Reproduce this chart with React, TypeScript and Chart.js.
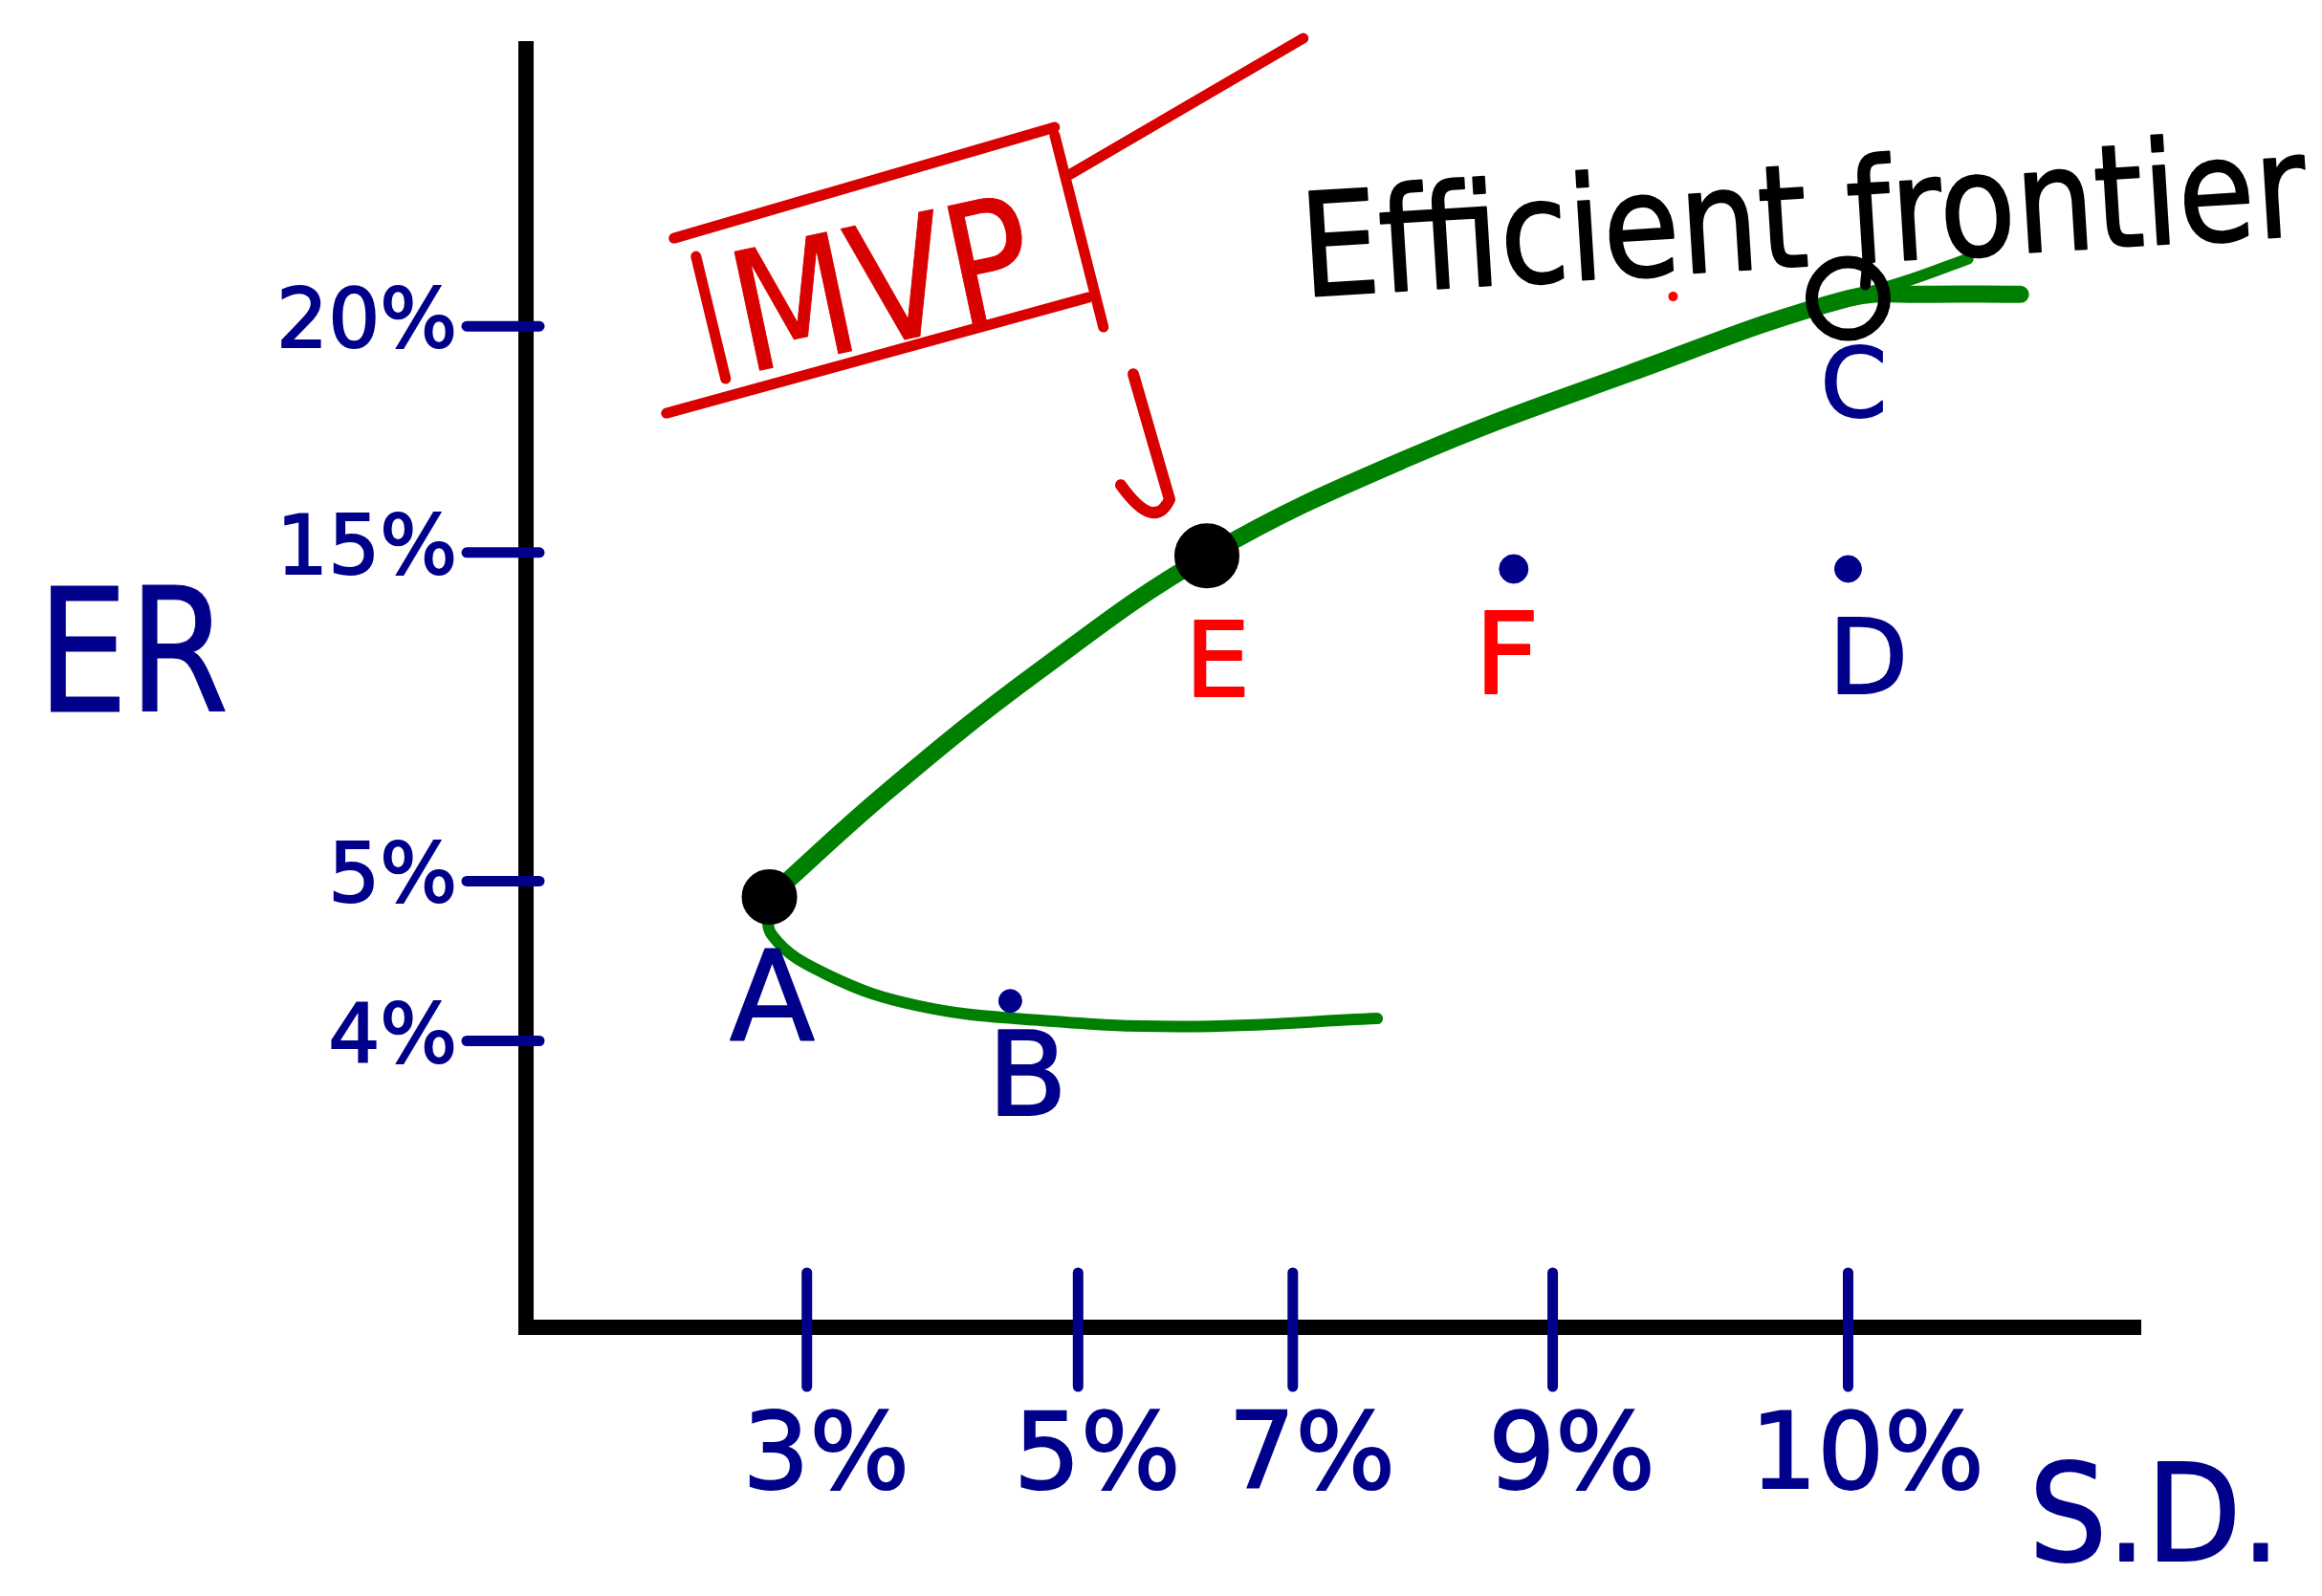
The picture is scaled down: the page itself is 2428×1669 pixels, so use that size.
import React, { useEffect, useRef } from 'react';
import { Chart, registerables, LinearScale } from 'chart.js';

// ---- values (S.D. and expected return, both in %) ----
const sdTicks = [3, 5, 7, 9, 10];
const erTicks = [4, 5, 15, 20];

const portfolioNames = ['A', 'B', 'C', 'D', 'E', 'F'];
const portfolioSD = [2.6, 4.5, 10, 10, 6.2, 8.7];
const portfolioER = [4.9, 4.25, 20.6, 14.5, 14.9, 14.5];

// upper (efficient) branch of the frontier, A -> E -> C and a little beyond
const frontierSD = [2.6, 3.6, 4.7, 6.2, 7.88, 9.26, 10, 10.26, 10.59];
const frontierER = [4.9, 7.75, 11.36, 14.9, 17.08, 18.96, 20.6, 20.69, 20.69];

// lower (inefficient) branch from A through B
const lowerSD = [2.6, 2.63, 3.16, 3.82, 4.7, 6.0, 7.65];
const lowerER = [4.9, 4.66, 4.41, 4.22, 4.13, 4.09, 4.14];

// second pen stroke leaving C
const spurSD = [10, 10.21, 10.41];
const spurER = [20.6, 21.0, 21.46];

// ---- look ----
const W = 2428;
const H = 1669;
const NAVY = '#00008b';
const RED = '#ff0000';
const PEN_RED = '#d90000';
const GREEN = '#008000';
const INK = '#000000';
const FAMILY = '"DejaVu Sans", "Noto Sans", sans-serif';

// The sketched axes are not evenly spaced: each axis maps value breakpoints
// to a fraction of its drawn length.
const AXIS_SPACING: Record<string, [number, number][]> = {
  x: [[0, 0], [3, 0.174], [5, 0.342], [7, 0.475], [9, 0.636], [10, 0.819], [11, 1]],
  y: [[0, 0], [4, 0.224], [5, 0.349], [15, 0.606], [20, 0.783], [26, 1]],
};

class SketchScale extends LinearScale {
  static id = 'sketch';
  static defaults = {};

  getPixelForValue(value: any) {
    if (value === null || value === undefined || isNaN(value)) return NaN;
    const s = AXIS_SPACING[(this as any).id];
    let i = 1;
    while (i < s.length - 1 && value > s[i][0]) i++;
    const [v0, f0] = s[i - 1];
    const [v1, f1] = s[i];
    const dec = f0 + ((value - v0) / (v1 - v0)) * (f1 - f0);
    return (this as any).getPixelForDecimal(dec);
  }

  getValueForPixel(pixel: number) {
    const dec = (this as any).getDecimalForPixel(pixel);
    const s = AXIS_SPACING[(this as any).id];
    let i = 1;
    while (i < s.length - 1 && dec > s[i][1]) i++;
    const [v0, f0] = s[i - 1];
    const [v1, f1] = s[i];
    return v0 + ((dec - f0) / (f1 - f0)) * (v1 - v0);
  }
}

Chart.register(...registerables, SketchScale as any);

const MARKERS: Record<string, { r: number; fill: string; stroke: string; width: number }> = {
  A: { r: 28, fill: INK, stroke: INK, width: 2 },
  B: { r: 12, fill: NAVY, stroke: NAVY, width: 1 },
  C: { r: 38, fill: 'rgba(0,0,0,0)', stroke: INK, width: 13 },
  D: { r: 14, fill: NAVY, stroke: NAVY, width: 1 },
  E: { r: 33, fill: INK, stroke: INK, width: 2 },
  F: { r: 15, fill: NAVY, stroke: NAVY, width: 1 },
};

const LETTERS: Record<string, { color: string; dx: number; dy: number; size: number }> = {
  A: { color: NAVY, dx: 3, dy: 115, size: 130 },
  B: { color: NAVY, dx: 18, dy: 88, size: 122 },
  C: { color: NAVY, dx: 6, dy: 98, size: 100 },
  D: { color: NAVY, dx: 21, dy: 102, size: 108 },
  E: { color: RED, dx: 11, dy: 119, size: 108 },
  F: { color: RED, dx: -7, dy: 99, size: 118 },
};

// note boxed "MVP" sits at this (S.D., ER) spot
const MVP_NOTE = { sd: 3.48, er: 21.2 };

function pen(ctx: CanvasRenderingContext2D, pts: number[][], color: string, width: number) {
  ctx.save();
  ctx.strokeStyle = color;
  ctx.lineWidth = width;
  ctx.lineCap = 'round';
  ctx.lineJoin = 'round';
  ctx.beginPath();
  ctx.moveTo(pts[0][0], pts[0][1]);
  for (let i = 1; i < pts.length; i++) ctx.lineTo(pts[i][0], pts[i][1]);
  ctx.stroke();
  ctx.restore();
}

// text with a thin outline of its own colour, for a felt-pen weight
function write(
  ctx: CanvasRenderingContext2D,
  str: string,
  x: number,
  y: number,
  o: { size: number; color: string; width?: number; angle?: number; baseline?: CanvasTextBaseline; weight?: number }
) {
  ctx.save();
  ctx.font = `normal ${o.size}px ${FAMILY}`;
  ctx.fillStyle = o.color;
  ctx.strokeStyle = o.color;
  ctx.lineJoin = 'round';
  ctx.lineWidth = o.weight ?? 2;
  ctx.textAlign = 'center';
  ctx.textBaseline = o.baseline || 'middle';
  ctx.translate(x, y);
  if (o.angle) ctx.rotate((o.angle * Math.PI) / 180);
  if (o.width) {
    const m = ctx.measureText(str).width;
    ctx.scale(o.width / m, 1);
  }
  ctx.fillText(str, 0, 0);
  if (ctx.lineWidth > 0) ctx.strokeText(str, 0, 0);
  ctx.restore();
}

const CAPTION = 'Efficient frontier';
const CAPTION_SIZE = 150;
const CAPTION_WIDTH = 1053;
const CAPTION_ANGLE = -3.5;

const sketchLayer = {
  id: 'sketchLayer',
  afterDatasetsDraw(chart: any) {
    const ctx: CanvasRenderingContext2D = chart.ctx;
    const area = chart.chartArea;
    const xs = chart.scales.x;
    const ys = chart.scales.y;
    const at = (sd: number, er: number) => [xs.getPixelForValue(sd), ys.getPixelForValue(er)];

    // tick strokes crossing the axes
    for (const v of sdTicks) {
      const x = xs.getPixelForValue(v);
      pen(ctx, [[x, area.bottom - 57], [x, area.bottom + 62]], NAVY, 11);
    }
    for (const v of erTicks) {
      const y = ys.getPixelForValue(v);
      pen(ctx, [[area.left - 62, y], [area.left + 14, y]], NAVY, 11);
    }

    // portfolio letters
    portfolioNames.forEach((name, i) => {
      const [x, y] = at(portfolioSD[i], portfolioER[i]);
      const s = LETTERS[name];
      write(ctx, name, x + s.dx, y + s.dy, { size: s.size, color: s.color, weight: 2 });
    });

    // axis titles
    write(ctx, 'ER', area.left - 411, area.top + 646, { size: 180, color: NAVY, width: 201, weight: 1 });
    write(ctx, 'S.D.', area.right + 15, area.bottom + 208, { size: 140, color: NAVY, width: 263, weight: 2 });

    // boxed MVP note with its pointer line
    const [mx, my] = at(MVP_NOTE.sd, MVP_NOTE.er);
    const rel = (dx: number, dy: number) => [mx + dx, my + dy];
    pen(ctx, [rel(-207, -34), rel(191, -150)], PEN_RED, 11);
    pen(ctx, [rel(-215, 149), rel(226, 28)], PEN_RED, 11);
    pen(ctx, [rel(-184, -15), rel(-153, 113)], PEN_RED, 11);
    pen(ctx, [rel(191, -142), rel(242, 59)], PEN_RED, 11);
    pen(ctx, [rel(206, -100), rel(451, -243)], PEN_RED, 11);
    write(ctx, 'MVP', mx + 14, my + 30, { size: 174, color: PEN_RED, width: 317, angle: -12, weight: 0 });

    // hooked arrow down to E
    const eIdx = portfolioNames.indexOf('E');
    const [ex, ey] = at(portfolioSD[eIdx], portfolioER[eIdx]);
    ctx.save();
    ctx.strokeStyle = PEN_RED;
    ctx.lineWidth = 12;
    ctx.lineCap = 'round';
    ctx.lineJoin = 'round';
    ctx.beginPath();
    ctx.moveTo(ex - 77, ey - 190);
    ctx.lineTo(ex - 39, ey - 59);
    ctx.quadraticCurveTo(ex - 55, ey - 25, ex - 90, ey - 74);
    ctx.stroke();
    ctx.restore();

    // "Efficient frontier" caption tied to C
    const cIdx = portfolioNames.indexOf('C');
    const [cx, cy] = at(portfolioSD[cIdx], portfolioER[cIdx]);
    const bx = cx - 44;
    const by = cy - 34;
    write(ctx, CAPTION, bx, by, {
      size: CAPTION_SIZE,
      color: INK,
      width: CAPTION_WIDTH,
      angle: CAPTION_ANGLE,
      baseline: 'alphabetic',
      weight: 2,
    });
    // the "f" of "frontier" runs down into C
    ctx.save();
    ctx.font = `normal ${CAPTION_SIZE}px ${FAMILY}`;
    const k = CAPTION_WIDTH / ctx.measureText(CAPTION).width;
    const along = (ctx.measureText('Efficient ').width + ctx.measureText('f').width * 0.42) * k - CAPTION_WIDTH / 2;
    ctx.restore();
    const a = (CAPTION_ANGLE * Math.PI) / 180;
    const fx = bx + along * Math.cos(a);
    const fy = by + along * Math.sin(a);
    pen(ctx, [[fx, fy - 6], [fx - 3, cy - 14]], INK, 11);

    // stray pen tap next to the caption
    ctx.save();
    ctx.fillStyle = RED;
    ctx.beginPath();
    ctx.arc(cx - 183, cy - 2, 5, 0, Math.PI * 2);
    ctx.fill();
    ctx.restore();
  },
};

export default function App() {
  const ref = useRef<HTMLCanvasElement>(null);

  useEffect(() => {
    const canvas = ref.current;
    if (!canvas) return;

    const toPoints = (xsArr: number[], ysArr: number[]) => xsArr.map((x, i) => ({ x, y: ysArr[i] }));

    const chart = new Chart(canvas, {
      type: 'scatter',
      data: {
        datasets: [
          {
            label: 'Portfolios',
            data: toPoints(portfolioSD, portfolioER),
            order: 0,
            pointRadius: portfolioNames.map((n) => MARKERS[n].r),
            pointHoverRadius: portfolioNames.map((n) => MARKERS[n].r),
            pointBackgroundColor: portfolioNames.map((n) => MARKERS[n].fill),
            pointBorderColor: portfolioNames.map((n) => MARKERS[n].stroke),
            pointBorderWidth: portfolioNames.map((n) => MARKERS[n].width),
            showLine: false,
            clip: false,
          } as any,
          {
            label: 'Efficient frontier',
            data: toPoints(frontierSD, frontierER),
            order: 1,
            showLine: true,
            borderColor: GREEN,
            borderWidth: 18,
            borderCapStyle: 'round',
            borderJoinStyle: 'round',
            tension: 0.4,
            pointRadius: 0,
            clip: false,
          } as any,
          {
            label: 'Lower branch',
            data: toPoints(lowerSD, lowerER),
            order: 2,
            showLine: true,
            borderColor: GREEN,
            borderWidth: 12,
            borderCapStyle: 'round',
            borderJoinStyle: 'round',
            tension: 0.4,
            pointRadius: 0,
            clip: false,
          } as any,
          {
            label: 'Second stroke',
            data: toPoints(spurSD, spurER),
            order: 3,
            showLine: true,
            borderColor: GREEN,
            borderWidth: 12,
            borderCapStyle: 'round',
            tension: 0.4,
            pointRadius: 0,
            clip: false,
          } as any,
        ],
      },
      options: {
        responsive: false,
        devicePixelRatio: 1,
        animation: false,
        events: [],
        layout: { padding: { top: 31, right: 190, bottom: 0, left: 0 } },
        plugins: {
          legend: { display: false },
          tooltip: { enabled: false },
        },
        scales: {
          x: {
            type: 'sketch' as any,
            position: 'bottom',
            min: 0,
            max: 11,
            grid: { display: false, drawTicks: false },
            border: { display: true, color: INK, width: 16 },
            ticks: {
              autoSkip: false,
              maxRotation: 0,
              minRotation: 0,
              padding: 73,
              labelOffset: 20,
              color: NAVY,
              textStrokeColor: NAVY,
              textStrokeWidth: 2,
              font: { family: FAMILY, size: 110 },
              callback: (v: any) => `${v}%`,
            },
            afterBuildTicks: (s: any) => {
              s.ticks = sdTicks.map((v) => ({ value: v }));
            },
            afterFit: (s: any) => {
              s.height = 281;
              s.paddingLeft = 0;
              s.paddingRight = 0;
            },
          } as any,
          y: {
            type: 'sketch' as any,
            position: 'left',
            min: 0,
            max: 26,
            grid: { display: false, drawTicks: false },
            border: { display: true, color: INK, width: 16 },
            ticks: {
              autoSkip: false,
              padding: 72,
              color: NAVY,
              textStrokeColor: NAVY,
              textStrokeWidth: 2,
              font: { family: FAMILY, size: 85 },
              callback: (v: any) => `${v}%`,
            },
            afterBuildTicks: (s: any) => {
              s.ticks = erTicks.map((v) => ({ value: v }));
            },
            afterFit: (s: any) => {
              s.width = 550;
              s.paddingTop = 0;
              s.paddingBottom = 0;
            },
          } as any,
        },
      },
      plugins: [sketchLayer],
    } as any);

    return () => chart.destroy();
  }, []);

  return (
    <div style={{ position: 'absolute', left: 0, top: 0, width: W, height: H, background: '#ffffff' }}>
      <canvas ref={ref} width={W} height={H} style={{ display: 'block', width: W, height: H }} />
    </div>
  );
}
